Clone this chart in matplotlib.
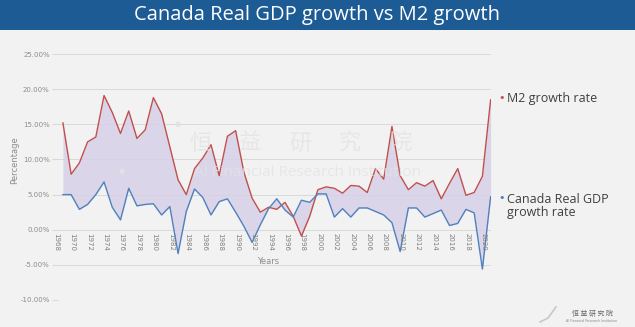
import matplotlib.pyplot as plt
from matplotlib.patches import Rectangle
from matplotlib.transforms import ScaledTranslation
import numpy as np

# Data (percent)
years = list(range(1968, 2021))
m2_growth = [15.2, 7.9, 9.5, 12.5, 13.2, 19.1, 16.7, 13.7, 16.9, 13.0,
             14.2, 18.8, 16.5, 11.8, 7.1, 5.0, 8.7, 10.2, 12.1, 7.7,
             13.3, 14.1, 8.2, 4.5, 2.5, 3.2, 2.9, 3.9, 1.9, -0.9,
             1.9, 5.7, 6.1, 5.9, 5.2, 6.3, 6.2, 5.3, 8.7, 7.2,
             14.7, 7.7, 5.7, 6.7, 6.2, 7.0, 4.4, 6.6, 8.7, 4.9,
             5.3, 7.6, 18.5]
gdp_growth = [5.0, 5.0, 2.9, 3.6, 5.0, 6.8, 3.2, 1.4, 5.9, 3.4,
              3.6, 3.7, 2.1, 3.3, -3.4, 2.6, 5.8, 4.6, 2.1, 4.0,
              4.4, 2.5, 0.5, -1.8, 0.7, 3.0, 4.4, 2.8, 1.8, 4.2,
              3.9, 5.1, 5.1, 1.8, 3.0, 1.8, 3.1, 3.1, 2.6, 2.1,
              1.0, -3.1, 3.1, 3.1, 1.8, 2.3, 2.8, 0.6, 0.9, 2.9,
              2.4, -5.6, 4.7]
y_ticks = [-10, -5, 0, 5, 10, 15, 20, 25]
x_label_years = list(range(1968, 2021, 2))

title = 'Canada Real GDP growth vs M2 growth'
watermark_chars = ['恒', '益', '研', '究', '院']
red = '#c0504d'
blue = '#4f81bd'
grey = '#8c8c8c'

fig = plt.figure(figsize=(6.35, 3.27), dpi=100)
fig.patch.set_facecolor('#f2f2f2')

# title bar
fig.patches.append(Rectangle((0, 0.908), 1, 0.092, transform=fig.transFigure,
                             facecolor='#1d5b95', edgecolor='none', zorder=0))
fig.text(0.5, 0.953, title, color='white', fontsize=14.5, family='Open Sans',
         ha='center', va='center')

ax = fig.add_axes([0.0913, 0.0826, 0.682, 0.752])
ax.set_facecolor('#f2f2f2')

# the band between the two series
ax.fill_between(years, m2_growth, gdp_growth, color='#d8d0e8', alpha=0.85, lw=0, zorder=2)
ax.plot(years, m2_growth, color=red, lw=1.0, zorder=3)
ax.plot(years, gdp_growth, color=blue, lw=1.0, zorder=3)

ax.set_xlim(1967.4, 2020.05)
ax.set_ylim(-10, 25)
ax.set_yticks(y_ticks)
ax.set_yticklabels(['%.2f%%' % v for v in y_ticks], fontsize=5, color=grey)
ax.yaxis.grid(True, color='#d9d9d9', lw=0.7, zorder=1)
ax.tick_params(axis='y', length=4, color='#d9d9d9', pad=2)
ax.set_xticks([])
for s in ax.spines.values():
    s.set_visible(False)

# category labels sit just under the 0% line, shifted a little left
shift = ax.transData + ScaledTranslation(-7 / 100, -3 / 100, fig.dpi_scale_trans)
for yr in x_label_years:
    ax.text(yr, 0, str(yr), rotation=270, fontsize=5, color='#7f7f7f',
            ha='center', va='top', transform=shift, zorder=4)

fig.text(268 / 635, 1 - 261 / 327, 'Years', fontsize=6, color=grey, ha='center', va='center')
fig.text(15 / 635, 1 - 160 / 327, 'Percentage', fontsize=6, color=grey,
         rotation=90, ha='center', va='center')

# legend at the right
fig.text(502 / 635, 1 - 98 / 327, '•', color=red, fontsize=8, ha='center', va='center')
fig.text(507 / 635, 1 - 98 / 327, 'M2 growth rate', color='#404040', fontsize=9,
         family='Open Sans', ha='left', va='center')
fig.text(502 / 635, 1 - 198 / 327, '•', color=blue, fontsize=8, ha='center', va='center')
fig.text(507 / 635, 1 - 206 / 327, 'Canada Real GDP\ngrowth rate', color='#404040', fontsize=9,
         family='Open Sans', ha='left', va='center', linespacing=1.0)

# watermark
for i, ch in enumerate(watermark_chars):
    fig.text((200 + 50 * i) / 635, 1 - 143 / 327, ch, color='#e3e3e3', fontsize=16,
             family=['Noto Sans CJK SC', 'DejaVu Sans'], ha='center', va='center',
             alpha=0.75, zorder=5)
fig.text(308 / 635, 1 - 172 / 327, 'AI Financial Research Institution', color='#e3e3e3',
         fontsize=11, family='Open Sans', ha='center', va='center', alpha=0.75, zorder=5)
fig.text(178 / 635, 1 - 124 / 327, '●', color='#e2e2e2', fontsize=5, ha='center', va='center', zorder=5)
fig.text(122 / 635, 1 - 171 / 327, '●', color='#e2e2e2', fontsize=5, ha='center', va='center', zorder=5)

# small logo in the corner
fig.text(592 / 635, 1 - 314 / 327, '恒 益 研 究 院', color='#6a6a6a', fontsize=5,
         family=['Noto Sans CJK SC', 'DejaVu Sans'], ha='center', va='center')
fig.text(592 / 635, 1 - 321 / 327, 'AI Financial Research Institution', color='#8a8a8a',
         fontsize=2.3, ha='center', va='center')
fig.lines.append(plt.Line2D([540 / 635, 548 / 635, 556 / 635], [1 - 322 / 327, 1 - 318 / 327, 1 - 307 / 327],
                            transform=fig.transFigure, color='#c8c8c8', lw=1.2))

fig.savefig('out.png', dpi=100, facecolor=fig.get_facecolor())
